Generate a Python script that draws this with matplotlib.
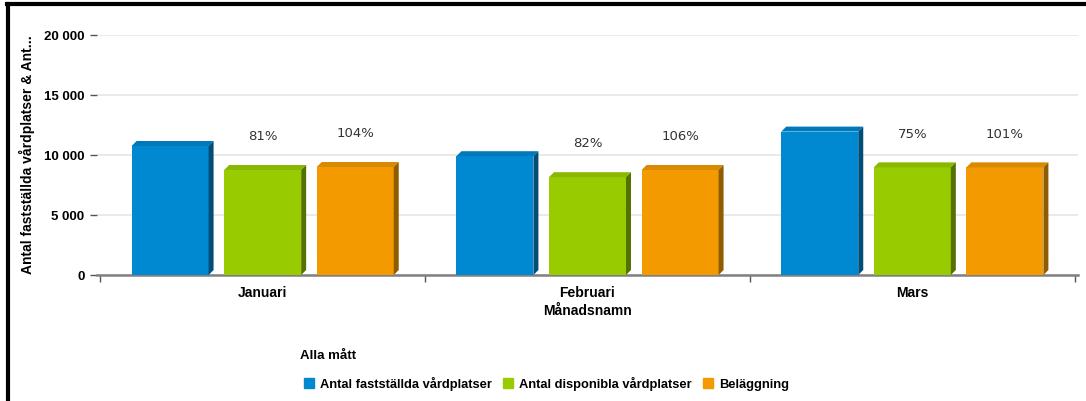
import matplotlib.pyplot as plt
from matplotlib.patches import Polygon
from matplotlib.lines import Line2D
from matplotlib.ticker import FuncFormatter

# data
months = ["Januari", "Februari", "Mars"]
faststallda = [10750, 9900, 11950]
disponibla = [8750, 8150, 8970]
belaggning = [9000, 8750, 8970]
disp_pct = ["81%", "82%", "75%"]
bel_pct = ["104%", "106%", "101%"]
series_names = ["Antal fastställda vårdplatser", "Antal disponibla vårdplatser", "Beläggning"]

# front, top, side colours
colors = [("#0089d1", "#0079ba", "#004d78"),
          ("#99cc00", "#88b800", "#557200"),
          ("#f29a00", "#d98a00", "#8f5c00")]

plt.rcParams['font.family'] = ['Liberation Sans', 'DejaVu Sans']

fig = plt.figure(figsize=(10.86, 4.01), dpi=100)
ax = fig.add_axes([97 / 1086, 1 - 275 / 401, (1078 - 97) / 1086, 240 / 401])

width = 0.237
pitch = 0.285
dx = 5 / 325
dy = 5 * 20000 / 240

all_series = [faststallda, disponibla, belaggning]
for i, vals in enumerate(all_series):
    front, top, side = colors[i]
    xs = [m + (i - 1) * pitch for m in range(len(months))]
    ax.bar(xs, vals, width=width, color=front, linewidth=0, zorder=3)
    for x, v in zip(xs, vals):
        x0, x1 = x - width / 2, x + width / 2
        ax.add_patch(Polygon([(x0, v), (x1, v), (x1 + dx, v + dy), (x0 + dx, v + dy)],
                             closed=True, color=top, zorder=3, lw=0))
        ax.add_patch(Polygon([(x1, 0), (x1 + dx, dy), (x1 + dx, v + dy), (x1, v)],
                             closed=True, color=side, zorder=3, lw=0))

# percent labels
for i, (vals, labs) in enumerate([(disponibla, disp_pct), (belaggning, bel_pct)]):
    for m, (v, lab) in enumerate(zip(vals, labs)):
        ax.annotate(lab, (m + i * pitch, v), xytext=(0, 24), textcoords="offset points",
                    ha="center", va="center", fontsize=9.5, color="#333333",
                    family=['DejaVu Sans'])

ax.set_xlim(-0.51, 2.51)
ax.set_ylim(0, 20000)
ax.set_yticks([0, 5000, 10000, 15000, 20000])
ax.yaxis.set_major_formatter(FuncFormatter(lambda v, p: f"{int(v):,}".replace(",", " ")))
ax.grid(axis="y", color="#e6e6e6", linewidth=1.2, zorder=0)
ax.set_axisbelow(True)

ax.set_xticks(range(len(months)))
ax.set_xticklabels(months, fontsize=10, fontweight="bold")
ax.set_xticks([-0.5, 0.5, 1.5, 2.5], minor=True)
ax.tick_params(axis="x", which="major", length=0, pad=8)
ax.tick_params(axis="x", which="minor", length=5, color="#555555", width=1)
ax.tick_params(axis="y", length=5, color="#555555", width=1, labelsize=9.5, pad=4)
for t in ax.get_yticklabels():
    t.set_fontweight("bold")

for s in ["top", "right", "left"]:
    ax.spines[s].set_visible(False)
ax.spines["bottom"].set_color("#808080")
ax.spines["bottom"].set_linewidth(1.8)

ax.set_xlabel("Månadsnamn", fontsize=10, fontweight="bold", labelpad=3)
ax.set_ylabel("Antal fastställda vårdplatser & Ant...", fontsize=10, fontweight="bold")
ax.yaxis.set_label_coords((27 - 97) / 981, 0.5)
ax.yaxis.label.set_va("center")

# legend
fig.text(300 / 1086, 1 - 356 / 401, "Alla mått", fontsize=9.5, fontweight="bold",
         ha="left", va="center")
handles = [Line2D([], [], marker="s", linestyle="", markersize=7, color=c[0]) for c in colors]
fig.legend(handles, series_names, loc="center left", bbox_to_anchor=(292 / 1086, 1 - 384 / 401),
           ncol=3, frameon=False, prop={"weight": "bold", "size": 9.3},
           handlelength=0.8, handletextpad=0.5, columnspacing=0.8)

# frame lines (top and left)
fig.add_artist(Line2D([7 / 1086, 1], [1 - 4 / 401, 1 - 4 / 401], color="black", linewidth=3))
fig.add_artist(Line2D([8 / 1086, 8 / 1086], [0, 1 - 4 / 401], color="black", linewidth=3))

fig.savefig("out.png", dpi=100)
